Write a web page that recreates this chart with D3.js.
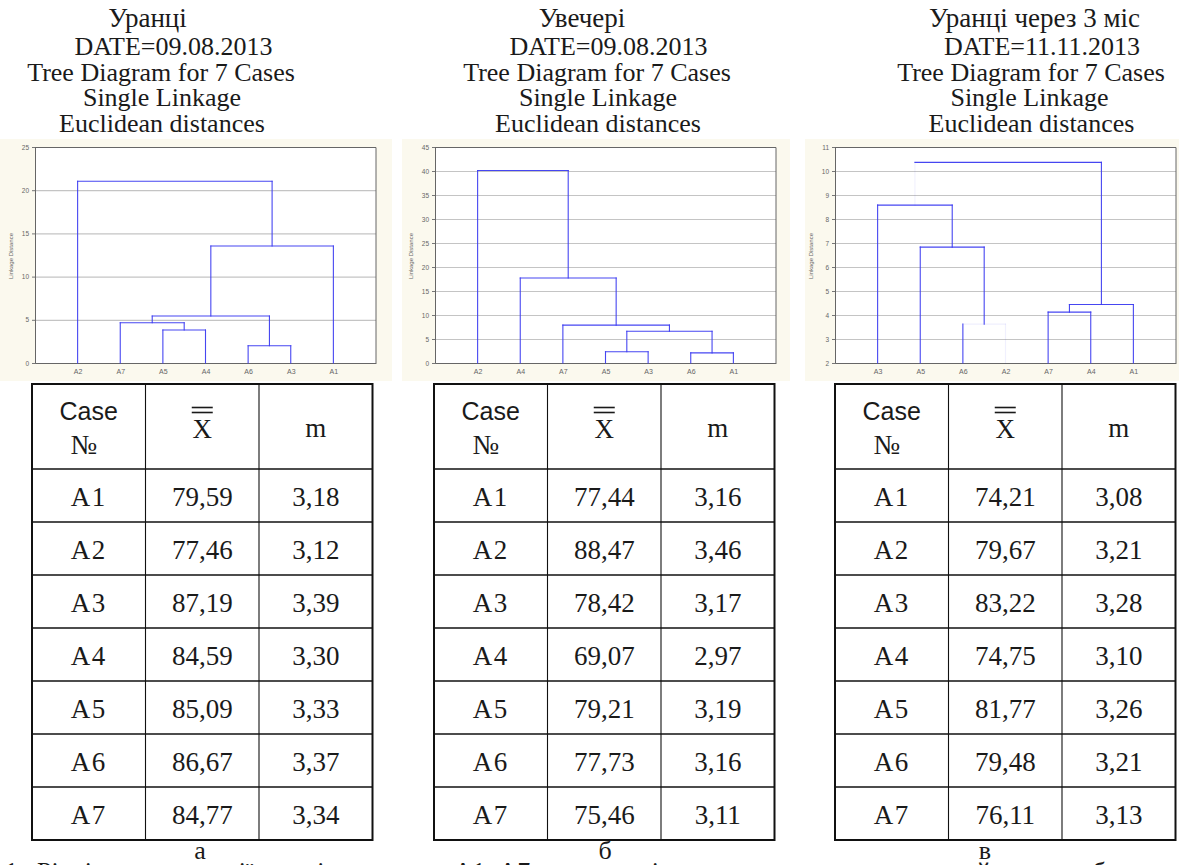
<!DOCTYPE html>
<html>
<head>
<meta charset="utf-8">
<script src="https://cdn.jsdelivr.net/npm/d3@7"></script>
<style>
body { margin: 0; background: #fff; }
</style>
</head>
<body>
<div id="chart-area"></div>
<script>
// DATA
var titles1 = ["Уранці", "DATE=09.08.2013", "Tree Diagram for 7 Cases", "Single Linkage", "Euclidean distances"];
var titles2 = ["Увечері", "DATE=09.08.2013", "Tree Diagram for 7 Cases", "Single Linkage", "Euclidean distances"];
var titles3 = ["Уранці через 3 міс", "DATE=11.11.2013", "Tree Diagram for 7 Cases", "Single Linkage", "Euclidean distances"];

// leaf order and merges [left, right, linkage distance]; "cN" = result of merge N
var order1 = ["A2", "A7", "A5", "A4", "A6", "A3", "A1"];
var merges1 = [["A5", "A4", 3.82], ["A7", "c0", 4.66], ["A6", "A3", 2.0],
               ["c1", "c2", 5.44], ["c3", "A1", 13.54], ["A2", "c4", 21.03]];
var yTicks1 = [0, 5, 10, 15, 20, 25];

var order2 = ["A2", "A4", "A7", "A5", "A3", "A6", "A1"];
var merges2 = [["A6", "A1", 2.1], ["A5", "A3", 2.35], ["c1", "c0", 6.6],
               ["A7", "c2", 7.9], ["A4", "c3", 17.7], ["A2", "c4", 40.1]];
var yTicks2 = [0, 5, 10, 15, 20, 25, 30, 35, 40, 45];

var order3 = ["A3", "A5", "A6", "A2", "A7", "A4", "A1"];
var merges3 = [["A6", "A2", 3.62], ["A7", "A4", 4.12], ["c1", "A1", 4.44],
               ["A5", "c0", 6.83], ["A3", "c3", 8.58], ["c4", "c2", 10.36]];
var yTicks3 = [2, 3, 4, 5, 6, 7, 8, 9, 10, 11];
// parts of the third tree that are almost invisible in the scan
var faintBars3 = ["c0"];
var faintStems3 = ["A2", "c4"];

// tables
var cases = ["A1", "A2", "A3", "A4", "A5", "A6", "A7"];
var xbar1 = [79.59, 77.46, 87.19, 84.59, 85.09, 86.67, 84.77];
var m1 = [3.18, 3.12, 3.39, 3.30, 3.33, 3.37, 3.34];
var xbar2 = [77.44, 88.47, 78.42, 69.07, 79.21, 77.73, 75.46];
var m2 = [3.16, 3.46, 3.17, 2.97, 3.19, 3.16, 3.11];
var xbar3 = [74.21, 79.67, 83.22, 74.75, 81.77, 79.48, 76.11];
var m3 = [3.08, 3.21, 3.28, 3.10, 3.26, 3.21, 3.13];
var panelLetters = ["а", "б", "в"];
var caption = "1. Рівні кластеризації дослідних груп А1–А7 за середнім значенням показника та його похибкою m";

// LAYOUT
var W = 1179, H = 865;
var plotTop = 147, plotH = 216, plotW = 341;
var tableTop = 384, headH = 85, rowH = 53, colW = 113.5;
var serif = "'Liberation Serif', 'Times New Roman', serif";
var sans = "'Liberation Sans', Arial, sans-serif";
var lineBase = [27, 55, 81, 106, 132];

var panels = [
  { titles: titles1, titleX: [147.5, 173.5, 161, 162, 162], bgX: 0, bgW: 392, plotX: 35,
    order: order1, merges: merges1, ticks: yTicks1, faintBars: [], faintStems: [],
    tableX: 32, xbar: xbar1, m: m1, letterX: 200 },
  { titles: titles2, titleX: [582, 608.5, 597, 598, 598], bgX: 402, bgW: 388, plotX: 435,
    order: order2, merges: merges2, ticks: yTicks2, faintBars: [], faintStems: [],
    tableX: 434, xbar: xbar2, m: m2, letterX: 605 },
  { titles: titles3, titleX: [1034.5, 1042, 1031, 1029.5, 1031.5], bgX: 805, bgW: 374, plotX: 835,
    order: order3, merges: merges3, ticks: yTicks3, faintBars: faintBars3, faintStems: faintStems3,
    tableX: 835, xbar: xbar3, m: m3, letterX: 985 }
];

var fmt = d3.format(".2f");
function comma(v) { return fmt(v).replace(".", ","); }

// CREATE SVG
var svg = d3.select("#chart-area")
    .append("svg")
    .attr("width", W)
    .attr("height", H);

panels.forEach(function(p, k) {
    // Titles
    svg.selectAll(".title" + k)
        .data(p.titles)
        .enter().append("text")
        .attr("x", (d, i) => p.titleX[i])
        .attr("y", (d, i) => lineBase[i])
        .attr("text-anchor", "middle")
        .attr("font-family", serif)
        .attr("font-size", (d, i) => i == 0 ? "27px" : "26px")
        .attr("fill", "#1a1a1a")
        .text(d => d);

    // Chart background
    svg.append("rect")
        .attr("x", p.bgX).attr("y", 139)
        .attr("width", p.bgW).attr("height", 242)
        .attr("fill", "#fbf9ee");

    var g = svg.append("g")
        .attr("transform", "translate(" + p.plotX + "," + plotTop + ")");

    g.append("rect")
        .attr("width", plotW).attr("height", plotH)
        .attr("fill", "#fff");

    var x = d3.scalePoint().domain(p.order).range([0, plotW]).padding(1);
    var y = d3.scaleLinear().domain(d3.extent(p.ticks)).range([plotH, 0]);

    // Grid lines
    g.append("g")
        .attr("class", "grid")
        .call(d3.axisLeft(y).tickValues(p.ticks).tickSize(-plotW).tickFormat(""))
        .call(a => a.select(".domain").remove())
        .selectAll("line")
        .attr("stroke", "#c4c4c4")
        .attr("stroke-width", 1.2);

    // Y axis
    var yAxis = g.append("g")
        .call(d3.axisLeft(y).tickValues(p.ticks).tickSize(3).tickPadding(3));
    yAxis.select(".domain").attr("stroke", "#666");
    yAxis.selectAll("line").attr("stroke", "#777");
    yAxis.selectAll("text")
        .attr("font-family", sans).attr("font-size", "6.5px").attr("fill", "#666");

    // X axis
    var xAxis = g.append("g")
        .attr("transform", "translate(0," + plotH + ")")
        .call(d3.axisBottom(x).tickSize(0).tickPadding(6));
    xAxis.select(".domain").attr("stroke", "#666");
    xAxis.selectAll("text")
        .attr("font-family", sans).attr("font-size", "7px").attr("fill", "#666");

    // Frame top and right
    g.append("path")
        .attr("d", "M0,0.5H" + plotW + "V" + plotH)
        .attr("fill", "none")
        .attr("stroke", "#666");

    // Y label
    g.append("text")
        .attr("transform", "rotate(-90)")
        .attr("x", -109)
        .attr("y", -22)
        .attr("text-anchor", "middle")
        .attr("font-family", sans)
        .attr("font-size", "6px")
        .attr("fill", "#666")
        .text("Linkage Distance");

    // Tree segments
    var pos = {};
    p.order.forEach(n => { pos[n] = { x: x(n), h: y.domain()[0] }; });
    var segs = [];
    p.merges.forEach(function(mg, i) {
        var a = pos[mg[0]], b = pos[mg[1]], h = mg[2], id = "c" + i;
        segs.push({ x1: a.x, y1: h, x2: b.x, y2: h, faint: p.faintBars.indexOf(id) >= 0 });
        segs.push({ x1: a.x, y1: a.h, x2: a.x, y2: h, faint: p.faintStems.indexOf(mg[0]) >= 0 });
        segs.push({ x1: b.x, y1: b.h, x2: b.x, y2: h, faint: p.faintStems.indexOf(mg[1]) >= 0 });
        pos[id] = { x: (a.x + b.x) / 2, h: h };
    });

    g.selectAll(".seg")
        .data(segs)
        .enter().append("line")
        .attr("class", "seg")
        .attr("x1", d => d.x1).attr("y1", d => y(d.y1))
        .attr("x2", d => d.x2).attr("y2", d => y(d.y2))
        .attr("stroke", "#3c3cf0")
        .attr("stroke-opacity", d => d.faint ? 0.08 : 0.95)
        .attr("stroke-width", 1.1)
        .attr("stroke-linecap", "square");

    // TABLE
    var t = svg.append("g")
        .attr("transform", "translate(" + p.tableX + "," + tableTop + ")");
    var tW = colW * 3, tH = headH + rowH * cases.length;
    var rowY = d3.scaleBand().domain(cases).range([headH, tH]);

    // inner lines
    cases.forEach(function(c) {
        t.append("line")
            .attr("x1", 0).attr("x2", tW)
            .attr("y1", rowY(c)).attr("y2", rowY(c))
            .attr("stroke", "#111").attr("stroke-width", 1.4);
    });
    [1, 2].forEach(function(j) {
        t.append("line")
            .attr("x1", colW * j).attr("x2", colW * j)
            .attr("y1", 0).attr("y2", tH)
            .attr("stroke", "#111").attr("stroke-width", 1.1);
    });
    t.append("rect")
        .attr("width", tW).attr("height", tH)
        .attr("fill", "none")
        .attr("stroke", "#111").attr("stroke-width", 2);

    // header
    t.append("text")
        .attr("x", colW / 2).attr("y", 36)
        .attr("text-anchor", "middle")
        .attr("font-family", sans).attr("font-size", "25px").attr("fill", "#1a1a1a")
        .text("Case");
    t.append("text")
        .attr("x", colW / 2 - 5).attr("y", 70)
        .attr("text-anchor", "middle")
        .attr("font-family", serif).attr("font-size", "28px").attr("fill", "#1a1a1a")
        .text("№");
    t.append("text")
        .attr("x", colW * 1.5).attr("y", 54)
        .attr("text-anchor", "middle")
        .attr("font-family", serif).attr("font-size", "27px").attr("fill", "#1a1a1a")
        .text("X");
    [23.5, 28.5].forEach(function(yy) {
        t.append("line")
            .attr("x1", colW * 1.5 - 10.5).attr("x2", colW * 1.5 + 10.5)
            .attr("y1", yy).attr("y2", yy)
            .attr("stroke", "#1a1a1a").attr("stroke-width", 1.6);
    });
    t.append("text")
        .attr("x", colW * 2.5).attr("y", 53)
        .attr("text-anchor", "middle")
        .attr("font-family", serif).attr("font-size", "27px").attr("fill", "#1a1a1a")
        .text("m");

    // rows
    var rows = t.selectAll(".row")
        .data(cases)
        .enter().append("g")
        .attr("transform", d => "translate(0," + (rowY(d) + rowY.bandwidth() / 2 + 10) + ")");
    rows.append("text")
        .attr("x", colW / 2)
        .attr("text-anchor", "middle")
        .attr("letter-spacing", "1.5px")
        .attr("font-family", serif).attr("font-size", "27px").attr("fill", "#1a1a1a")
        .text(d => d);
    rows.append("text")
        .attr("x", colW * 1.5)
        .attr("text-anchor", "middle")
        .attr("font-family", serif).attr("font-size", "27px").attr("fill", "#1a1a1a")
        .text((d, i) => comma(p.xbar[i]));
    rows.append("text")
        .attr("x", colW * 2.5)
        .attr("text-anchor", "middle")
        .attr("font-family", serif).attr("font-size", "27px").attr("fill", "#1a1a1a")
        .text((d, i) => comma(p.m[i]));

    // panel letter
    svg.append("text")
        .attr("x", p.letterX).attr("y", 859)
        .attr("text-anchor", "middle")
        .attr("font-family", serif).attr("font-size", "26px").attr("fill", "#1a1a1a")
        .text(panelLetters[k]);
});

// Caption (mostly below the visible area, as in the cropped original)
svg.append("text")
    .attr("x", 5).attr("y", 880)
    .attr("font-family", serif).attr("font-size", "26px").attr("fill", "#1a1a1a")
    .attr("word-spacing", "6px")
    .text(caption);
</script>
</body>
</html>
